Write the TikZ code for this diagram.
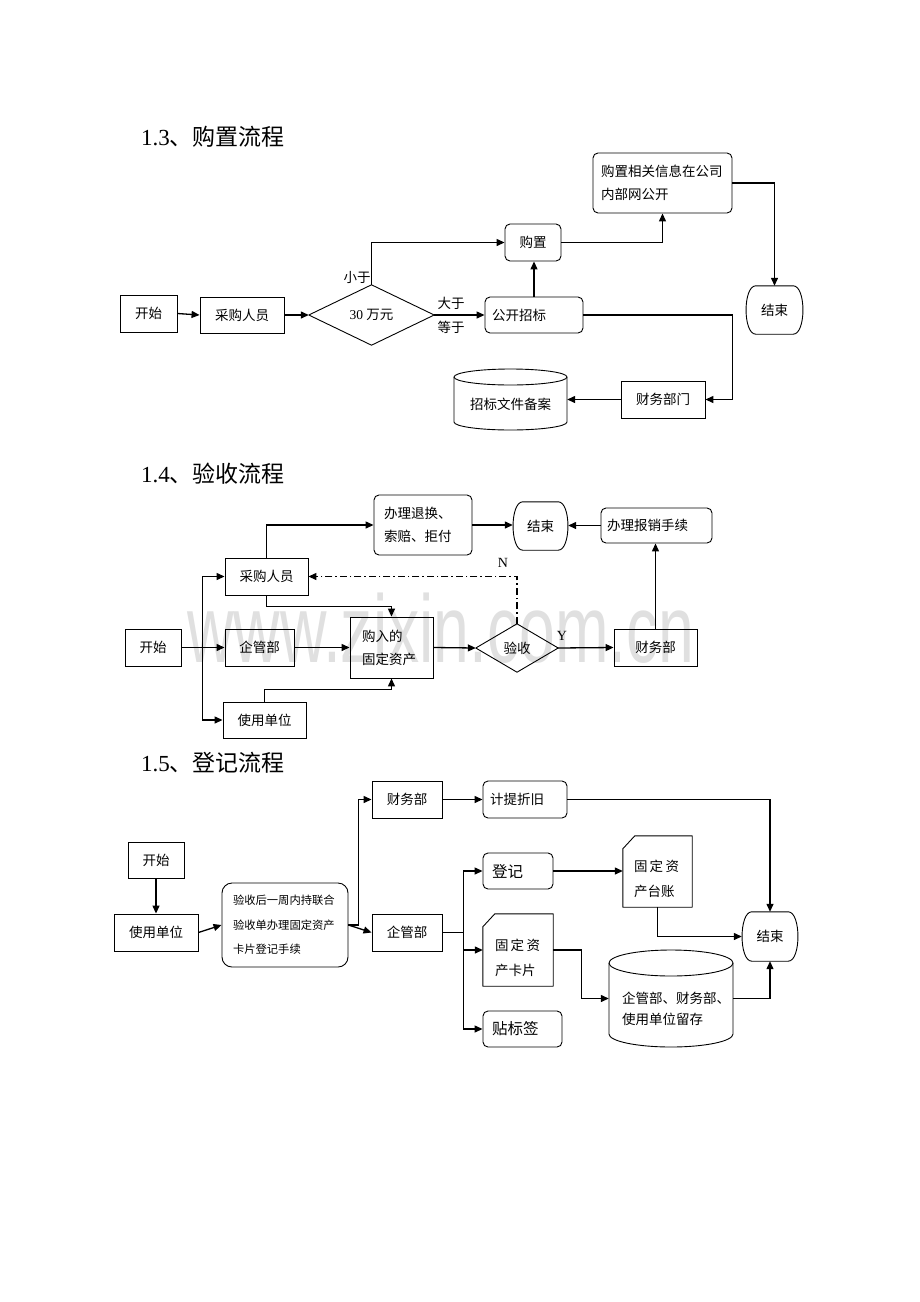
\documentclass[tikz,border=0pt]{standalone}
\usepackage{fontspec}
\setmainfont{Noto Sans CJK SC}
\newfontfamily\lat{Liberation Serif}
\newfontfamily\wmfont{Liberation Sans}
\usetikzlibrary{arrows.meta}
\newcommand\termdraw[1]{\draw[shapeline] ([xshift=10pt]#1.north west) -- ([xshift=-10pt]#1.north east) .. controls ([xshift=3pt]#1.north east) and ([xshift=3pt]#1.south east) .. ([xshift=-10pt]#1.south east) -- ([xshift=10pt]#1.south west) .. controls ([xshift=-3pt]#1.south west) and ([xshift=-3pt]#1.north west) .. cycle;}
\newcommand\carddraw[1]{\draw[shapeline] ([yshift=-13pt]#1.north west) -- ([xshift=12pt]#1.north west) -- (#1.north east) -- (#1.south east) -- (#1.south west) -- cycle;}
\newcommand\diadraw[1]{\draw[shapeline] (#1.west) -- (#1.north) -- (#1.east) -- (#1.south) -- cycle;}
% x1 y1 x2 y2 rx(dim) ry(number)
\newcommand\cyldraw[6]{%
 \draw[shapeline] (#1,#2+#6) -- (#1,#4-#6) arc[start angle=180,end angle=360,x radius=#5,y radius=#6pt] -- (#3,#2+#6) arc[start angle=0,end angle=180,x radius=#5,y radius=#6pt] -- cycle;
 \draw[shapeline] (#1,#2+#6) arc[start angle=180,end angle=360,x radius=#5,y radius=#6pt];}
\begin{document}
\begin{tikzpicture}[x=1pt,y=-1pt]
\tikzset{
 shapeline/.style={line width=0.9pt, line join=round},
 base/.style={inner sep=0pt, font=\fontsize{13.5}{23}\selectfont, align=center},
 sz/.style 2 args={minimum width=#1pt, minimum height=#2pt},
 sq/.style={base, draw, line width=0.9pt},
 rnd/.style={sq, rounded corners=5pt},
 arr/.style={line width=1.3pt, -{Triangle[length=8pt,width=7pt]}},
 lbl/.style={inner sep=0pt, font=\fontsize{13.5}{15}\selectfont},
 head/.style={inner sep=0pt, anchor=base west, font=\fontsize{23}{28}\selectfont},
 dashdot/.style={dash pattern=on 7pt off 3pt on 1.5pt off 3pt},
}
\fill[white] (0,0) rectangle (920,1302);
\useasboundingbox (0,0) rectangle (920,1302);

% watermark
\node[inner sep=0pt, anchor=base, text=black!12, font=\wmfont\fontsize{96}{96}\selectfont] (wm) at (441,662) {\scalebox{0.67}[1]{www.zixin.com.cn}};

% ================= 1.3 =================
\node[head] (h13) at (141,145) {{\lat 1.3}、购置流程};
\node[sq, sz={57}{37}] (s1) at (148.5,313.5) {开始};
\node[sq, sz={84}{36}] (p1) at (242,315) {采购人员};
\node[base, sz={125}{60}] (d1) at (371.5,315) {{\lat 30} 万元};
\diadraw{d1}
\node[rnd, sz={56}{37}] (b1) at (533,242.5) {购置};
\node[rnd, sz={98}{36}, text width=84pt, inner xsep=7pt, align=left] (g1) at (534,315) {公开招标};
\node[rnd, sz={139}{60}, text width=123pt, inner xsep=8pt, align=left] (i1) at (662.5,183) {购置相关信息在公司\\内部网公开};
\node[base, sz={57}{48}] (e1) at (774.5,310) {结束};
\termdraw{e1}
\node[sq, sz={84}{37}] (f1) at (663,399.5) {财务部门};
\node[base, sz={113}{61}] (c1) at (510.5,399.5) {};
\cyldraw{454}{369}{567}{430}{56.5pt}{8}
\node[base] (c1t) at (510.5,404) {招标文件备案};

\node[lbl] (l1) at (357,277) {小于};
\node[lbl] (l2) at (451,303) {大于};
\node[lbl] (l3) at (451,327) {等于};

\draw[arr] (s1.east) -- (p1.west);
\draw[arr] (p1.east) -- (d1.west);
\draw[arr] (d1.north) |- (b1.west);
\draw[arr] (d1.east) -- (g1.west);
\draw[arr] (g1.north) -- (g1.north |- b1.south);
\draw[arr] (b1.east) -| (i1.south);
\draw[arr] (i1.east) -| (e1.north);
\draw[arr] (g1.east) -- ++(149,0) |- (f1.east);
\draw[arr] (f1.west) -- (c1.east);

% ================= 1.4 =================
\node[head] (h14) at (141,482) {{\lat 1.4}、验收流程};
\node[sq, sz={56}{37}] (s2) at (153,647.5) {开始};
\node[sq, sz={83}{37}] (p2) at (266.5,576.5) {采购人员};
\node[sq, sz={69}{37}] (q2) at (259.5,647.5) {企管部};
\node[sq, sz={83}{36}] (u2) at (264.5,720) {使用单位};
\node[sq, sz={83}{61}, text width=59pt, inner xsep=12pt, align=left] (a2) at (391.5,647.5) {购入的\\固定资产};
\node[rnd, sz={98}{60}, text width=78pt, inner xsep=10pt, align=left] (r2) at (423,525) {办理退换、\\索赔、拒付};
\node[base, sz={55}{48}] (e2) at (540.5,526) {结束};
\termdraw{e2}
\node[rnd, sz={111}{35}, text width=99pt, inner xsep=6pt, align=left] (x2) at (656.5,525.5) {办理报销手续};
\node[base, sz={82}{48}] (v2) at (517,648) {验收};
\diadraw{v2}
\node[sq, sz={83}{37}] (w2) at (655.5,647.5) {财务部};
\node[lbl, font=\lat\fontsize{14}{15}\selectfont] (nN) at (503,563) {N};
\node[lbl, font=\lat\fontsize{14}{15}\selectfont] (nY) at (562,636) {Y};

\draw[arr] (s2.east) -- (q2.west);
\draw[arr] (s2.east) -- ++(21,0) |- (p2.west);
\draw[arr] (s2.east) -- ++(21,0) |- (u2.west);
\draw[arr] (p2.south) -- ++(0,11) -| (a2.north);
\draw[arr] (u2.north) -- ++(0,-12) -| (a2.south);
\draw[arr] (q2.east) -- (a2.west);
\draw[arr] (p2.north) |- (r2.west);
\draw[arr] (r2.east) -- (r2.east -| e2.west);
\draw[arr] (x2.west) -- (x2.west -| e2.east);
\draw[arr] (a2.east) -- (v2.west);
\draw[arr] (v2.east) -- (w2.west);
\draw[arr, dashdot] (v2.north) |- (p2.east);
\draw[arr] (w2.north) -- (w2.north |- x2.south);

% ================= 1.5 =================
\node[head] (h15) at (141,771) {{\lat 1.5}、登记流程};
\node[sq, sz={56}{36}] (s3) at (156,860) {开始};
\node[sq, sz={84}{37}] (u3) at (156,932.5) {使用单位};
\node[sq, rounded corners=10pt, sz={126}{84}, text width=104pt, inner xsep=11pt, align=left, font=\fontsize{11.3}{24.5}\selectfont] (k3) at (285,925) {验收后一周内持联合\\验收单办理固定资产\\卡片登记手续};
\node[sq, sz={70}{37}] (w3) at (407,799.5) {财务部};
\node[sq, sz={70}{37}] (q3) at (407,932.5) {企管部};
\node[rnd, sz={84}{37}, text width=70pt, inner xsep=7pt, align=left] (j3) at (525,799.5) {计提折旧};
\node[base, sz={56}{49}] (e3) at (770,936.5) {结束};
\termdraw{e3}
\node[rnd, sz={70}{36}, text width=52pt, inner xsep=9pt, align=left, font=\fontsize{15.5}{18}\selectfont] (d3) at (518,871) {登记};
\node[base, sz={70}{72}] (k4) at (518,950) {};
\carddraw{k4}
\node[base, text width=54pt, align=left, font=\fontsize{13.5}{25}\selectfont] (k4t) at (522,957.5) {固\,定\,资\\产卡片};
\node[rnd, sz={79}{36}, text width=61pt, inner xsep=9pt, align=left, font=\fontsize{15.5}{18}\selectfont] (t3) at (522.5,1029) {贴标签};
\node[base, sz={69}{71}] (z3) at (657.5,871.5) {};
\carddraw{z3}
\node[base, text width=54pt, align=left, font=\fontsize{13.5}{25}\selectfont] (z3t) at (661,878.5) {固\,定\,资\\产台账};
\node[base, sz={124}{97}] (c3) at (671,998.5) {};
\cyldraw{609}{950}{733}{1047}{62pt}{13}
\node[base, text width=110pt, align=left, font=\fontsize{13.5}{21.5}\selectfont] (c3t) at (677,1009) {企管部、财务部、\\使用单位留存};

\draw[arr] (s3.south) -- (u3.north);
\draw[arr] (u3.east) -- (k3.west);
\draw[arr] (k3.east) -- ++(10,0) |- (w3.west);
\draw[arr] (k3.east) -- (q3.west);
\draw[arr] (w3.east) -- (j3.west);
\draw[arr] (j3.east) -| (e3.north);
\draw[line width=1.8pt] (q3.east) -- ++(21,0) coordinate (qb);
\draw[arr] (qb) |- (d3.west);
\draw[arr] (qb) |- (k4.west);
\draw[arr] (qb) |- (t3.west);
\draw[arr] (d3.east) -- (d3.east -| z3.west);
\draw[arr] (z3.south) |- (e3.west);
\draw[arr] (k4.east) -- ++(28,0) |- (c3.west);
\draw[arr] (c3.east) -| (e3.south);
\end{tikzpicture}
\end{document}
